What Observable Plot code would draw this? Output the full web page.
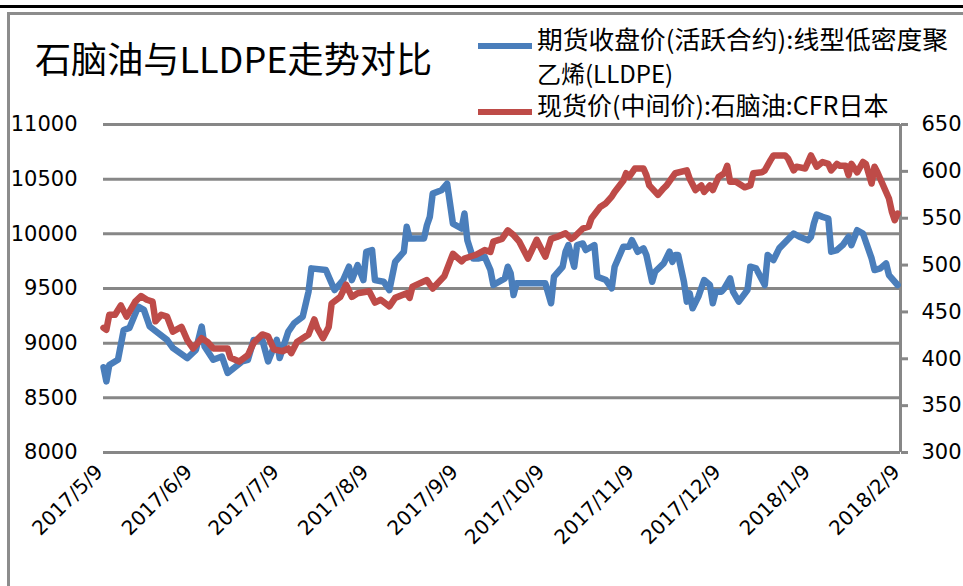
<!DOCTYPE html>
<html><head><meta charset="utf-8">
<script src="https://cdn.jsdelivr.net/npm/d3@7"></script>
<script src="https://cdn.jsdelivr.net/npm/@observablehq/plot@0.6"></script>
<style>
body{margin:0;background:#fff;}
#wrap{position:relative;width:963px;height:586px;overflow:hidden;background:#fff;}
#topline{position:absolute;left:0;top:5px;width:963px;height:3px;background:#000;}
#frame{position:absolute;left:7px;top:12px;width:980px;height:600px;border:3px solid #8c8c8c;}
#chart{position:absolute;left:0;top:0;}
</style></head><body>
<div id="wrap"><div id="topline"></div><div id="frame"></div><div id="chart"></div></div>
<script>
const titleText = "石脑油与LLDPE走势对比";
const legendBlue = ["期货收盘价(活跃合约):线型低密度聚", "乙烯(LLDPE)"];
const legendRed = "现货价(中间价):石脑油:CFR日本";

const leftTicks = [8000, 8500, 9000, 9500, 10000, 10500, 11000];
const rightTicks = [300, 350, 400, 450, 500, 550, 600, 650];
const xTickLabels = ["2017/5/9","2017/6/9","2017/7/9","2017/8/9","2017/9/9","2017/10/9","2017/11/9","2017/12/9","2018/1/9","2018/2/9"];

const lldpeDates = ["2017-05-09","2017-05-10","2017-05-11","2017-05-14","2017-05-16","2017-05-18","2017-05-21","2017-05-23","2017-05-25","2017-05-31",
"2017-06-02","2017-06-07","2017-06-10","2017-06-12","2017-06-13","2017-06-16","2017-06-19","2017-06-21","2017-06-26","2017-06-28","2017-06-30",
"2017-07-03","2017-07-05","2017-07-08","2017-07-09","2017-07-12","2017-07-14","2017-07-17","2017-07-19","2017-07-20","2017-07-25","2017-07-28","2017-07-31",
"2017-08-02","2017-08-03","2017-08-05","2017-08-07","2017-08-08","2017-08-10","2017-08-11","2017-08-14","2017-08-16","2017-08-18","2017-08-21","2017-08-22","2017-08-23","2017-08-28","2017-08-29","2017-08-30","2017-08-31",
"2017-09-03","2017-09-05","2017-09-06","2017-09-07","2017-09-10","2017-09-11","2017-09-12","2017-09-14","2017-09-16","2017-09-18","2017-09-20","2017-09-21","2017-09-25","2017-09-26","2017-09-27","2017-09-28","2017-09-29",
"2017-10-09","2017-10-11","2017-10-12","2017-10-15","2017-10-16","2017-10-17","2017-10-19","2017-10-20","2017-10-22","2017-10-23","2017-10-26","2017-10-27","2017-10-30",
"2017-11-01","2017-11-02","2017-11-05","2017-11-07","2017-11-08","2017-11-10","2017-11-12","2017-11-13","2017-11-15","2017-11-16","2017-11-19","2017-11-21","2017-11-22","2017-11-23","2017-11-24","2017-11-26","2017-11-27","2017-11-28","2017-11-29",
"2017-12-01","2017-12-03","2017-12-05","2017-12-06","2017-12-07","2017-12-09","2017-12-10","2017-12-12","2017-12-13","2017-12-15","2017-12-18","2017-12-19","2017-12-21","2017-12-24","2017-12-25","2017-12-27","2017-12-29",
"2018-01-03","2018-01-05","2018-01-08","2018-01-09","2018-01-10","2018-01-11","2018-01-13","2018-01-15","2018-01-16","2018-01-18","2018-01-20","2018-01-22","2018-01-23","2018-01-25","2018-01-27","2018-01-30","2018-01-31",
"2018-02-02","2018-02-04","2018-02-05","2018-02-08"];
const lldpeValues = [8780,8650,8800,8848,9121,9140,9334,9304,9152,9030,
8957,8864,8939,9152,8970,8848,8878,8727,8833,8848,9030,
9030,8833,9030,8864,9106,9182,9243,9471,9684,9669,9486,9577,
9699,9577,9714,9577,9836,9852,9577,9562,9486,9744,9836,10064,9958,9958,10079,10155,10368,
10398,10459,10277,10094,10049,10186,9942,9775,9775,9790,9669,9532,9593,9699,9638,9441,9547,
9547,9365,9608,9699,9836,9897,9699,9897,9912,9852,9897,9608,9577,
9502,9699,9882,9882,9942,9836,9867,9806,9562,9653,9730,9836,9744,9806,9806,9562,9380,9456,9319,
9426,9577,9532,9365,9471,9471,9502,9593,9471,9380,9486,9699,9684,9532,9806,9760,9867,
10003,9973,9942,9973,10094,10176,10155,10140,9836,9852,9897,9973,9897,10033,10003,9775,9669,
9684,9730,9623,9532];

const naphthaDates = ["2017-05-09","2017-05-10","2017-05-11","2017-05-13","2017-05-15","2017-05-17","2017-05-20","2017-05-22","2017-05-24","2017-05-26","2017-05-27","2017-05-29","2017-05-31",
"2017-06-02","2017-06-05","2017-06-07","2017-06-09","2017-06-12","2017-06-14","2017-06-16","2017-06-21","2017-06-22","2017-06-25","2017-06-28","2017-06-30",
"2017-07-03","2017-07-05","2017-07-07","2017-07-10","2017-07-12","2017-07-13","2017-07-15","2017-07-17","2017-07-19","2017-07-21","2017-07-22","2017-07-24","2017-07-26","2017-07-27","2017-07-30",
"2017-08-01","2017-08-03","2017-08-05","2017-08-09","2017-08-11","2017-08-13","2017-08-16","2017-08-18","2017-08-22","2017-08-23","2017-08-24","2017-08-29","2017-08-31",
"2017-09-04","2017-09-07","2017-09-10","2017-09-11","2017-09-15","2017-09-18","2017-09-20","2017-09-21","2017-09-24","2017-09-26","2017-09-28","2017-09-30",
"2017-10-03","2017-10-06","2017-10-09","2017-10-11","2017-10-13","2017-10-16","2017-10-18","2017-10-19","2017-10-22","2017-10-24","2017-10-25","2017-10-28","2017-10-30",
"2017-11-01","2017-11-02","2017-11-05","2017-11-06","2017-11-07","2017-11-09","2017-11-12","2017-11-13","2017-11-14","2017-11-17","2017-11-19","2017-11-20","2017-11-23","2017-11-27","2017-11-28","2017-11-30",
"2017-12-02","2017-12-03","2017-12-05","2017-12-06","2017-12-08","2017-12-10","2017-12-11","2017-12-12","2017-12-14","2017-12-17","2017-12-19","2017-12-20","2017-12-23","2017-12-24","2017-12-26","2017-12-27","2017-12-31",
"2018-01-01","2018-01-03","2018-01-04","2018-01-07","2018-01-09","2018-01-11","2018-01-13","2018-01-15","2018-01-16","2018-01-18","2018-01-19","2018-01-21","2018-01-22","2018-01-23","2018-01-25","2018-01-27","2018-01-28","2018-01-30","2018-01-31",
"2018-02-01","2018-02-04","2018-02-05","2018-02-06","2018-02-07","2018-02-08"];
const naphthaValues = [433,431,447,447,457,445,461,467,463,461,440,447,445,
429,434,420,411,422,418,411,411,401,397,404,417,
426,424,410,408,411,406,418,422,426,442,433,422,434,459,466,
479,466,470,472,460,463,456,465,470,465,477,484,475,
488,512,504,507,511,516,514,525,528,537,532,525,
507,527,509,528,530,534,528,530,539,541,550,562,566,
573,578,590,598,594,603,603,596,585,575,582,585,598,601,592,580,
585,578,585,580,594,598,606,589,589,583,585,598,599,601,612,617,617,
614,601,605,603,617,605,610,608,601,608,606,606,596,608,599,610,608,587,605,
599,578,571,557,548,555];

const parse = d3.utcParse("%Y-%m-%d");
const parseTick = d3.utcParse("%Y/%-m/%-d");
const toLeft = v => 8000 + (v - 300) * 3000 / 350;
const fromLeft = v => 300 + (v - 8000) * 350 / 3000;

const lldpe = lldpeDates.map((d, i) => ({date: parse(d), value: lldpeValues[i]}));
const naphtha = naphthaDates.map((d, i) => ({date: parse(d), value: toLeft(naphthaValues[i])}));
const xTicks = xTickLabels.map(parseTick);
const xStart = xTicks[0], xEnd = xTicks[xTicks.length - 1];
const grid = "#878787";

const chart = Plot.plot({
  width: 963,
  height: 586,
  marginTop: 124,
  marginBottom: 134,
  marginLeft: 103,
  marginRight: 63,
  style: {fontFamily: "'DejaVu Sans', sans-serif", fontSize: "21px", color: "#000", background: "transparent"},
  x: {type: "utc", domain: [xStart, xEnd]},
  y: {domain: [leftTicks[0], leftTicks[leftTicks.length - 1]]},
  marks: [
    Plot.ruleY(leftTicks, {stroke: grid, strokeWidth: 3}),
    Plot.ruleX([xEnd], {stroke: grid, strokeWidth: 3}),
    Plot.axisY(leftTicks, {anchor: "left", tickSize: 0, tickPadding: 26, label: null, fontSize: 21, tickFormat: d => String(d)}),
    Plot.axisY(rightTicks.map(toLeft), {anchor: "right", tickSize: 7, tickPadding: 14, stroke: grid, strokeWidth: 3, label: null, fontSize: 21, tickFormat: d => String(Math.round(fromLeft(d)))}),
    Plot.axisX(xTicks, {anchor: "bottom", tickRotate: -45, tickSize: 0, tickPadding: 16, label: null, fontSize: 20, dx: -4, tickFormat: (d, i) => xTickLabels[i]}),
    Plot.line(lldpe, {x: "date", y: "value", stroke: "#4A7EBB", strokeWidth: 6.5, strokeLinejoin: "round", strokeLinecap: "round"}),
    Plot.line(naphtha, {x: "date", y: "value", stroke: "#BE4B48", strokeWidth: 6.5, strokeLinejoin: "round", strokeLinecap: "round"})
  ]
});
document.getElementById("chart").appendChild(chart);

const svg = d3.select(chart);
const g = svg.append("g").attr("font-family", "'Noto Sans CJK SC', sans-serif").attr("fill", "#000").attr("text-anchor", "start");
g.append("text").attr("x", 35).attr("y", 73).attr("font-size", 36)
  .attr("textLength", 397).attr("lengthAdjust", "spacingAndGlyphs").text(titleText);
g.append("line").attr("x1", 478).attr("x2", 532).attr("y1", 46).attr("y2", 46)
  .attr("stroke", "#4A7EBB").attr("stroke-width", 6);
g.append("line").attr("x1", 478).attr("x2", 532).attr("y1", 112).attr("y2", 112)
  .attr("stroke", "#BE4B48").attr("stroke-width", 6);
g.append("text").attr("x", 537).attr("y", 49).attr("font-size", 25)
  .attr("textLength", 411).attr("lengthAdjust", "spacingAndGlyphs").text(legendBlue[0]);
g.append("text").attr("x", 537).attr("y", 83).attr("font-size", 24).text(legendBlue[1]);
g.append("text").attr("x", 537).attr("y", 115).attr("font-size", 25).text(legendRed);
</script>
</body></html>
